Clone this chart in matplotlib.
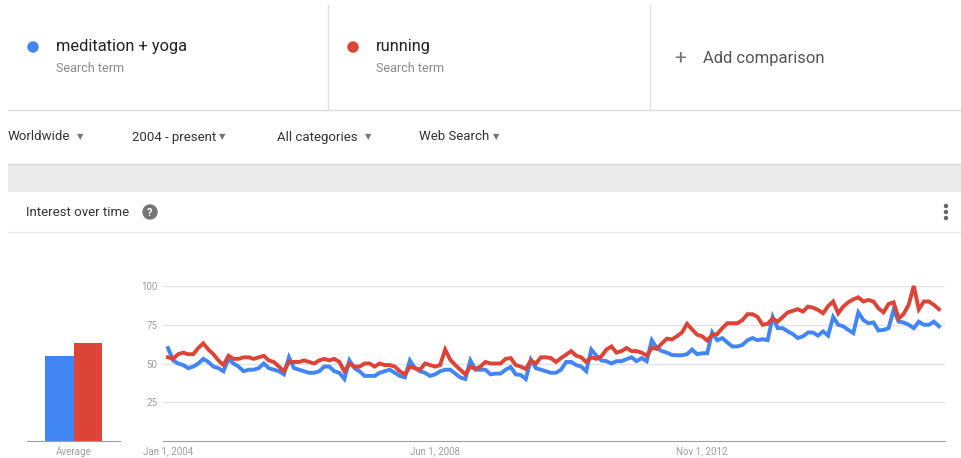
import matplotlib
matplotlib.use("Agg")
import matplotlib.pyplot as plt
from matplotlib.patches import Circle, Rectangle

plt.rcParams["font.family"] = ["Roboto", "DejaVu Sans"]

# monthly interest, Jan 2004 .. Oct 2016
blue = [60, 52, 50, 49, 47, 48, 50, 53, 51, 48, 47, 45,
        53, 50, 48, 45, 46, 46, 47, 50, 47, 46, 45, 43,
        54, 47, 46, 45, 44, 44, 45, 48, 48, 45, 44, 40,
        52, 47, 45, 42, 42, 42, 44, 45, 46, 44, 42, 41,
        52, 47, 45, 44, 42, 43, 45, 46, 46, 43.5, 41, 40,
        52, 46, 46, 46, 43, 43.5, 43.5, 46, 47.7, 43, 42.6, 40,
        52.5, 47, 46, 45, 44, 44, 46, 51, 51, 49, 48, 45,
        59, 55, 52, 51.5, 50, 51.5, 51.5, 52.8, 54, 51.5, 53.5, 51.5,
        65, 60, 58, 57, 55.5, 55.3, 55.3, 56, 59, 56, 56.6, 56.6,
        70, 65, 66.4, 63.6, 61, 61, 62, 65, 66.4, 65, 65.7, 65,
        80, 72.8, 72.8, 70.7, 69, 66.4, 67.5, 70, 70, 68, 70.7, 68,
        80, 75, 74, 71.7, 69.6, 83, 78, 76, 76.5, 71.3, 71.7, 72.8,
        84.6, 77, 76.5, 75, 72.8, 77, 75, 75, 77, 74]
red = [54, 53, 56, 57, 56, 56, 60, 63, 59, 56, 52, 49,
       55, 53, 53, 54, 54, 53, 54, 55, 52, 51, 48, 45,
       51, 51, 51, 52, 51, 50, 52, 53, 52, 53, 51, 45,
       50, 48, 48, 50, 50, 48, 50, 49, 49, 48, 45, 43,
       48, 47, 46, 50, 49, 48, 49, 59, 52.5, 49, 46, 43,
       48, 46.5, 48, 51, 50, 50, 50, 53, 53.5, 49, 48, 46.5,
       52, 50, 54, 54, 53.5, 51, 53.5, 55.7, 58, 55, 54, 51,
       54, 53, 54.6, 59, 61, 57, 58, 60, 58, 58, 57, 55,
       60, 59.5, 63, 66, 65.5, 67.6, 70, 75.6, 72, 68.6, 67.6, 64.8,
       68.5, 69, 72.8, 76, 76, 76, 78, 81.8, 81.8, 80, 75, 75.6,
       79, 77, 80, 83, 84, 85, 83.5, 86.7, 86, 84.6, 82.4, 87,
       90, 82.4, 86.7, 89.5, 91.4, 92.7, 90, 91, 90, 85.6, 83, 88.4,
       89.5, 79, 82, 88, 100, 85, 90, 90, 87.8, 85]

averages = [55, 63]
terms = ["meditation + yoga", "running"]
colors = ["#4285f4", "#db4437"]
tick_pos = [0, 53, 106]
tick_labels = ["Jan 1, 2004", "Jun 1, 2008", "Nov 1, 2012"]
y_ticks = [25, 50, 75, 100]
filters = ["Worldwide", "2004 - present", "All categories", "Web Search"]

W, H = 962, 458
fig = plt.figure(figsize=(W / 100, H / 100), dpi=100)

# page overlay in pixel coordinates
ui = fig.add_axes([0, 0, 1, 1])
ui.set_xlim(0, W)
ui.set_ylim(H, 0)
ui.axis("off")

# header boxes
ui.plot([328, 328], [5, 110], color="#e0e0e0", lw=1)
ui.plot([650, 650], [5, 110], color="#e0e0e0", lw=1)
ui.plot([8, W], [110, 110], color="#dcdcdc", lw=1)
for i, (term, c) in enumerate(zip(terms, colors)):
    x0 = 33 + i * 320
    ui.add_patch(Circle((x0, 47), 5, color=c))
    ui.text(x0 + 23, 47, term, fontsize=11.8, color="#222222", va="center")
    ui.text(x0 + 23, 68, "Search term", fontsize=9, color="#8a8a8a", va="center")
ui.text(680, 58, "+", fontsize=15, color="#757575", va="center", ha="center")
ui.text(703, 59, "Add comparison", fontsize=12, color="#555555", va="center")

# filter row
fx = [8, 132, 277, 419]
ax_arrow = [80, 222, 368, 496]
for x, a, label in zip(fx, ax_arrow, filters):
    ui.text(x, 137, label, fontsize=9.5, color="#333333", va="center")
    ui.text(a, 137, "\u25bc", fontsize=6, color="#757575", va="center", ha="center",
            family="DejaVu Sans")

# grey band
ui.add_patch(Rectangle((8, 164), W - 8, 28, color="#ebebeb", lw=0))
ui.plot([8, W], [164, 164], color="#d4d4d4", lw=1)

# card title
ui.text(26, 212, "Interest over time", fontsize=9.5, color="#333333", va="center")
ui.add_patch(Circle((150, 212), 7, color="#757575"))
ui.text(150, 212.5, "?", fontsize=8, color="white", weight="bold", ha="center", va="center")
for dy in (-6, 0, 6):
    ui.add_patch(Circle((946, 212 + dy), 1.5, color="#666666"))
ui.plot([8, W], [232, 232], color="#e8e8e8", lw=1)

# line chart
ax = fig.add_axes([163 / W, 1 - 441 / H, (945 - 163) / W, 155 / H])
months = list(range(len(blue)))
for y in y_ticks:
    ax.axhline(y, color="#e3e3e3", lw=1, zorder=0)
ax.plot(months, blue, color=colors[0], lw=2.8, clip_on=False, solid_joinstyle="miter")
ax.plot(months, red, color=colors[1], lw=2.8, clip_on=False, solid_joinstyle="miter")
ax.set_xlim(-1, 154.2)
ax.set_ylim(0, 100)
ax.set_yticks(y_ticks)
ax.set_yticklabels([str(v) for v in y_ticks])
ax.set_xticks(tick_pos)
ax.set_xticklabels(tick_labels)
ax.tick_params(length=0, labelsize=7, colors="#9e9e9e", pad=4)
for s in ["top", "right", "left"]:
    ax.spines[s].set_visible(False)
ax.spines["bottom"].set_color("#a0a0a0")
ax.patch.set_alpha(0)

# average bars
bx = fig.add_axes([27 / W, 1 - 441 / H, 93 / W, 155 / H])
bx.bar([-0.5, 0.5], averages, width=1, color=colors)
bx.set_xlim(-1.63, 1.63)
bx.set_ylim(0, 100)
bx.set_yticks([])
bx.set_xticks([0])
bx.set_xticklabels(["Average"])
bx.tick_params(length=0, labelsize=7, colors="#9e9e9e", pad=4)
for s in ["top", "right", "left"]:
    bx.spines[s].set_visible(False)
bx.spines["bottom"].set_color("#a0a0a0")
bx.patch.set_alpha(0)

fig.savefig("out.png", dpi=100)
